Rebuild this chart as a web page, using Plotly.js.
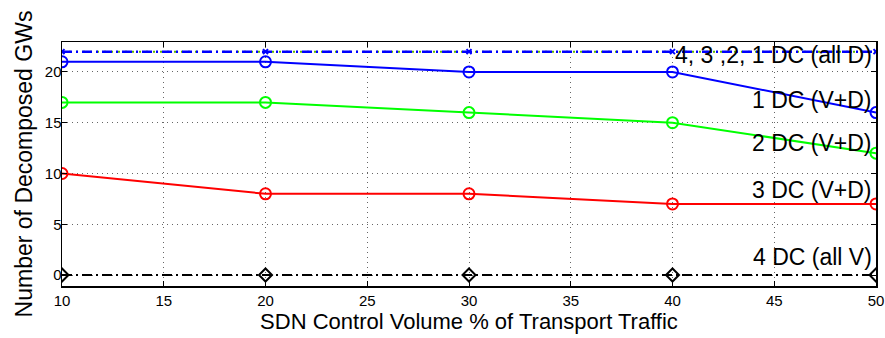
<!DOCTYPE html>
<html>
<head>
<meta charset="utf-8">
<script src="https://cdn.plot.ly/plotly-3.0.1.min.js"></script>
<style>html,body{margin:0;padding:0;background:#fff;}#chart{width:885px;height:338px;}</style>
</head>
<body>
<div id="chart"></div>
<script>
var xVals = [10, 20, 30, 40, 50];
var allD = [22, 22, 22, 22, 22];
var dc1 = [21, 21, 20, 20, 16];
var dc2 = [17, 17, 16, 15, 12];
var dc3 = [10, 8, 8, 7, 7];
var dc4 = [0, 0, 0, 0, 0];
var xTicks = [10, 15, 20, 25, 30, 35, 40, 45, 50];
var yTicks = [0, 5, 10, 15, 20];
var labels = ["4, 3 ,2, 1 DC (all D)", "1 DC (V+D)", "2 DC (V+D)", "3 DC (V+D)", "4 DC (all V)"];
var labelY = [21.7, 17.2, 13.0, 8.4, 1.8];

var traces = [
  {x: xVals, y: dc3, mode: 'lines+markers', line: {color: '#ff0000', width: 2},
   marker: {symbol: 'circle-open', size: 11, color: '#ff0000', line: {width: 2}}},
  {x: xVals, y: dc2, mode: 'lines+markers', line: {color: '#00ff00', width: 2},
   marker: {symbol: 'circle-open', size: 11, color: '#00ff00', line: {width: 2}}},
  {x: xVals, y: dc1, mode: 'lines+markers', line: {color: '#0000ff', width: 2},
   marker: {symbol: 'circle-open', size: 11, color: '#0000ff', line: {width: 2}}},
  {x: xVals, y: dc4, mode: 'lines+markers', line: {color: '#000000', width: 2, dash: '10px,4px,2px,4px'},
   marker: {symbol: 'diamond-open', size: 10, color: '#000000', line: {width: 2}}},
  {x: xVals, y: allD, mode: 'lines', line: {color: '#5fb800', width: 2, dash: '2px,5px'}},
  {x: xVals, y: allD, mode: 'lines+markers', line: {color: '#0000ff', width: 2.5, dash: '10px,4px,2px,4px'},
   marker: {symbol: 'x-thin-open', size: 5, color: '#0000ff', line: {width: 2, color: '#0000ff'}}}
];

var annotations = labels.map(function (t, i) {
  return {x: 50, y: labelY[i], xref: 'x', yref: 'y', text: t, showarrow: false,
          xanchor: 'right', yanchor: 'middle', xshift: -2,
          font: {family: 'Liberation Sans, Arial, sans-serif', size: 23, color: '#000'}};
});

var layout = {
  width: 885, height: 338,
  margin: {l: 62, r: 9, t: 42, b: 52},
  paper_bgcolor: '#fff', plot_bgcolor: '#fff',
  showlegend: false,
  font: {family: 'Liberation Sans, Arial, sans-serif', color: '#000'},
  xaxis: {
    range: [10, 50], tickvals: xTicks, ticktext: xTicks.map(String),
    ticks: 'inside', ticklen: 5, tickcolor: '#000', tickwidth: 1,
    showline: true, linecolor: '#000', linewidth: 1.5, mirror: 'ticks',
    showgrid: true, gridcolor: '#666', griddash: '1px,4px', gridwidth: 1,
    zeroline: false, tickfont: {size: 15},
    title: {text: 'SDN Control Volume % of Transport Traffic', font: {size: 22}, standoff: 6}
  },
  yaxis: {
    range: [-1.08, 22.95], tickvals: yTicks, ticktext: yTicks.map(String),
    ticks: 'inside', ticklen: 5, tickcolor: '#000', tickwidth: 1,
    showline: true, linecolor: '#000', linewidth: 1.5, mirror: 'ticks',
    showgrid: true, gridcolor: '#666', griddash: '1px,4px', gridwidth: 1,
    zeroline: false, tickfont: {size: 15}, ticklabelstandoff: -4,
    title: {text: 'Number of Decomposed GWs', font: {size: 23}, standoff: 6}
  },
  annotations: annotations
};

Plotly.newPlot('chart', traces, layout, {displayModeBar: false, staticPlot: true});
</script>
</body>
</html>
